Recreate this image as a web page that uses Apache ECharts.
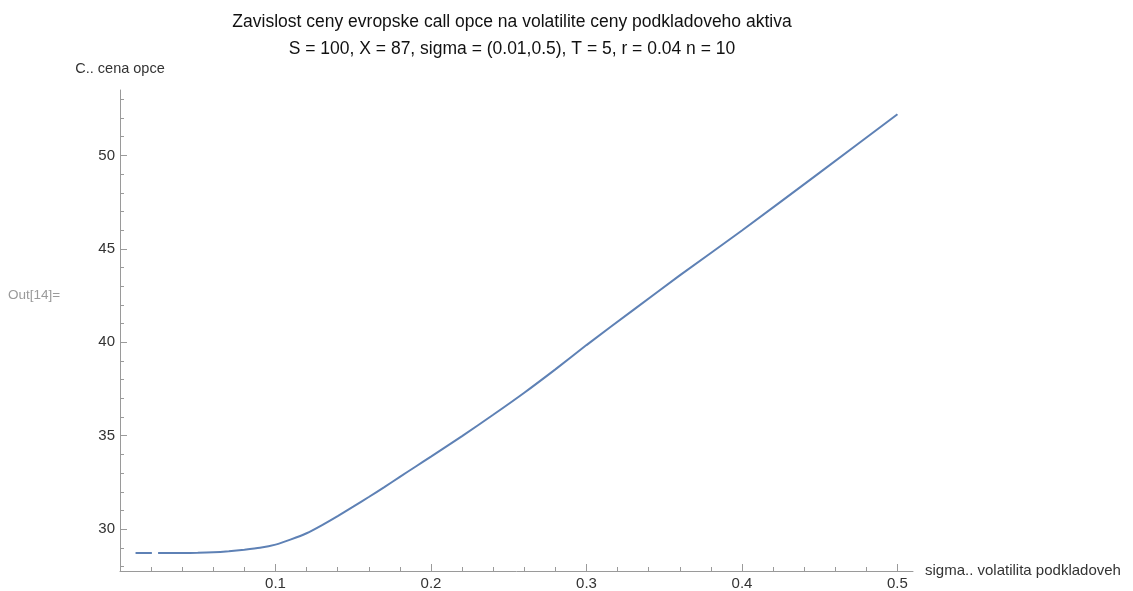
<!DOCTYPE html>
<html>
<head>
<meta charset="utf-8">
<title>Zavislost ceny evropske call opce na volatilite</title>
<script src="https://cdn.jsdelivr.net/npm/echarts@6/dist/echarts.min.js"></script>
<style>
  html, body { margin: 0; padding: 0; background: #fff; }
  #chart { width: 1133px; height: 591px; }
</style>
</head>
<body>
<div id="chart"></div>
<script>
// volatility of the underlying (sigma) and the call price C at each sigma
// a null breaks the curve where the price is not defined
const sigma = [0.010, 0.015, 0.0205, 0.0225, 0.0245, 0.03, 0.04, 0.05, 0.06, 0.07, 0.08, 0.09, 0.10,
               0.11, 0.12, 0.13, 0.14, 0.15, 0.16, 0.17, 0.18, 0.19, 0.20, 0.22, 0.24, 0.26, 0.28,
               0.30, 0.33, 0.36, 0.40, 0.45, 0.50];
const price = [28.72, 28.72, 28.72, null, 28.72, 28.72, 28.72, 28.73, 28.76, 28.82, 28.90, 29.00, 29.17,
               29.45, 29.78, 30.22, 30.70, 31.20, 31.72, 32.25, 32.80, 33.34, 33.88, 34.98, 36.12, 37.30, 38.55,
               39.85, 41.72, 43.58, 45.98, 49.08, 52.20];

const xMajorTicks = [0.1, 0.2, 0.3, 0.4, 0.5];
const xMinorTicks = [0.02, 0.04, 0.06, 0.08, 0.12, 0.14, 0.16, 0.18, 0.22, 0.24, 0.26, 0.28,
                     0.32, 0.34, 0.36, 0.38, 0.42, 0.44, 0.46, 0.48];
const yMajorTicks = [30, 35, 40, 45, 50];
const yMinorTicks = [28, 29, 31, 32, 33, 34, 36, 37, 38, 39, 41, 42, 43, 44, 46, 47, 48, 49, 51, 52, 53];

const titleText = 'Zavislost ceny evropske call opce na volatilite ceny podkladoveho aktiva\n' +
                  'S = 100, X = 87, sigma = (0.01,0.5), T = 5, r = 0.04 n = 10';

const FONT = '"Liberation Sans", Arial, sans-serif';
const AXIS = '#9a9a9a';
const X_MIN = 0, X_MAX = 0.51, Y_MIN = 27.76, Y_MAX = 53.5;

const chart = echarts.init(document.getElementById('chart'), null, { renderer: 'canvas' });

function xAxisDef(ticks, len, withLabels, extra) {
  return Object.assign({
    type: 'value', min: X_MIN, max: X_MAX, position: 'bottom',
    axisLine: { show: withLabels, onZero: false, lineStyle: { color: AXIS, width: 1 } },
    axisTick: { show: true, inside: true, length: len, customValues: ticks,
                lineStyle: { color: AXIS, width: 1 } },
    axisLabel: withLabels ? {
      show: true, customValues: xMajorTicks, margin: 5,
      color: '#333', fontFamily: FONT, fontSize: 15,
      formatter: v => String(Math.round(v * 10) / 10)
    } : { show: false },
    splitLine: { show: false }
  }, extra || {});
}

function yAxisDef(ticks, len, withLabels, extra) {
  return Object.assign({
    type: 'value', min: Y_MIN, max: Y_MAX, position: 'left',
    axisLine: { show: withLabels, onZero: false, lineStyle: { color: AXIS, width: 1 } },
    axisTick: { show: true, inside: true, length: len, customValues: ticks,
                lineStyle: { color: AXIS, width: 1 } },
    axisLabel: withLabels ? {
      show: true, customValues: yMajorTicks, margin: 5,
      color: '#333', fontFamily: FONT, fontSize: 15
    } : { show: false },
    splitLine: { show: false }
  }, extra || {});
}

chart.setOption({
  backgroundColor: '#ffffff',
  animation: false,
  title: {
    text: titleText,
    left: 507, top: 4, textAlign: 'center',
    textStyle: { fontFamily: FONT, fontSize: 17.5, fontWeight: 'normal', color: '#111', lineHeight: 27 }
  },
  grid: { left: 120, right: 220, top: 90, bottom: 19, containLabel: false },
  xAxis: [
    xAxisDef(xMajorTicks, 7, true, {
      name: 'sigma.. volatilita podkladoveh',
      nameLocation: 'end', nameGap: 12,
      nameTextStyle: { fontFamily: FONT, fontSize: 15, color: '#333', align: 'left',
                       verticalAlign: 'middle', padding: [0, 0, 10, 0] }
    }),
    xAxisDef(xMinorTicks, 4, false)
  ],
  yAxis: [
    yAxisDef(yMajorTicks, 7, true, {
      name: 'C.. cena opce',
      nameLocation: 'end', nameGap: 14,
      nameTextStyle: { fontFamily: FONT, fontSize: 14.5, color: '#333', align: 'center' }
    }),
    yAxisDef(yMinorTicks, 4, false)
  ],
  graphic: [{
    type: 'text', left: 8, top: 288,
    style: { text: 'Out[14]=', fill: '#9a9a9a', font: '13.5px ' + FONT }
  }],
  series: [{
    type: 'line',
    xAxisIndex: 0, yAxisIndex: 0,
    data: sigma.map((s, i) => [s, price[i]]),
    showSymbol: false,
    connectNulls: false,
    smooth: 0.2,
    lineStyle: { color: '#5e81b5', width: 2 },
    itemStyle: { color: '#5e81b5' }
  }]
});
</script>
</body>
</html>
